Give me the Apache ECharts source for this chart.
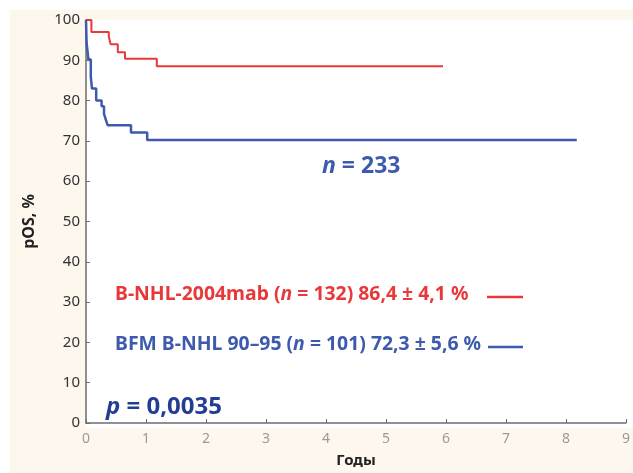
<!DOCTYPE html>
<html><head><meta charset="utf-8">
<script src="https://cdn.jsdelivr.net/npm/echarts@6/dist/echarts.min.js"></script>
<style>html,body{margin:0;padding:0;background:#fff}#c{width:633px;height:473px}</style>
</head><body><div id="c"></div>
<script>
const xTicks = [0,1,2,3,4,5,6,7,8,9];
const yTicks = [0,10,20,30,40,50,60,70,80,90,100];
const redTimes  = [0, 0.09, 0.38, 0.41, 0.53, 0.65, 1.18, 5.95];
const redValues = [100, 97, 95.9, 94, 92, 90.4, 88.5, 88.5];
const blueTimes  = [0, 0.01, 0.04, 0.08, 0.10, 0.17, 0.26, 0.30, 0.33, 0.36, 0.75, 1.02, 8.18];
const blueValues = [100, 94.3, 90.2, 85.9, 83.0, 80.0, 78.6, 76.7, 75.3, 73.9, 72.1, 70.2, 70.2];
const redLabel  = ['B-NHL-2004mab (', 'n', ' = 132) 86,4 ± 4,1 %'];
const blueLabel = ['BFM B-NHL 90–95 (', 'n', ' = 101) 72,3 ± 5,6 %'];

const RED = '#e8383a', BLUE = '#3d5aad', DARK = '#233d92';
const FONT = '"Noto Sans", "Open Sans", sans-serif';
const chart = echarts.init(document.getElementById('c'), null, {renderer:'canvas'});
const rich = (c, size) => ({
  a: {fontFamily: FONT, fontWeight: 'bold', fontSize: size, fill: c, color: c},
  i: {fontFamily: FONT, fontWeight: 'bold', fontStyle: 'italic', fontSize: size, fill: c, color: c}
});
chart.setOption({
  backgroundColor: '#ffffff',
  animation: false,
  graphic: [
    {type:'rect', z:-10, shape:{x:10,y:10,width:623,height:463}, style:{fill:'#fdf7ee'}},
    {type:'rect', z:-9, shape:{x:86,y:20,width:547,height:408}, style:{fill:'#ffffff'}},
    {type:'text', z:10, left:115, top:285, style:{text:'{a|'+redLabel[0]+'}{i|'+redLabel[1]+'}{a|'+redLabel[2]+'}', rich:rich(RED,19.4)}},
    {type:'text', z:10, left:115, top:335, style:{text:'{a|'+blueLabel[0]+'}{i|'+blueLabel[1]+'}{a|'+blueLabel[2]+'}', rich:rich(BLUE,19.4)}},
    {type:'line', z:10, shape:{x1:487,y1:297,x2:523,y2:297}, style:{stroke:RED,lineWidth:2.5}},
    {type:'line', z:10, shape:{x1:488,y1:347,x2:523,y2:347}, style:{stroke:BLUE,lineWidth:2.5}},
    {type:'text', z:10, left:322, top:155, style:{text:'{i|n}{a| = 233}', rich:rich(BLUE,23)}},
    {type:'text', z:10, left:106, top:395, style:{text:'{i|p}{a| = 0,0035}', rich:rich(DARK,24)}}
  ],
  grid: {left:86, top:20, right:4, bottom:45, containLabel:false},
  xAxis: {
    type:'value', min:xTicks[0], max:xTicks[xTicks.length-1], interval:1,
    name:'Годы', nameLocation:'middle', nameGap:30,
    nameTextStyle:{fontFamily:FONT, fontWeight:'bold', fontSize:15, color:'#222'},
    axisLine:{show:true, onZero:false, lineStyle:{color:'#6d6d6d', width:1.5}},
    axisTick:{show:true, inside:true, length:4, lineStyle:{color:'#6d6d6d'}},
    axisLabel:{fontFamily:FONT, fontSize:14, color:'#9a9a9a', margin:9},
    splitLine:{show:false}
  },
  yAxis: {
    type:'value', min:yTicks[0], max:yTicks[yTicks.length-1], interval:10,
    name:'pOS, %', nameLocation:'middle', nameGap:49, nameRotate:90,
    nameTextStyle:{fontFamily:FONT, fontWeight:'bold', fontSize:16, color:'#222'},
    axisLine:{show:true, onZero:false, lineStyle:{color:'#6d6d6d', width:1.5}},
    axisTick:{show:true, inside:true, length:4, lineStyle:{color:'#6d6d6d'}},
    axisLabel:{fontFamily:FONT, fontSize:15, color:'#333', margin:6},
    splitLine:{show:false}
  },
  series: [
    {type:'line', step:'end', showSymbol:false, data: redTimes.map((t,i)=>[t, redValues[i]]),
     lineStyle:{color:RED, width:2}, itemStyle:{color:RED}, z:3},
    {type:'line', step:'end', showSymbol:false, data: blueTimes.map((t,i)=>[t, blueValues[i]]),
     lineStyle:{color:BLUE, width:2.5}, itemStyle:{color:BLUE}, z:4}
  ]
});
</script></body></html>
